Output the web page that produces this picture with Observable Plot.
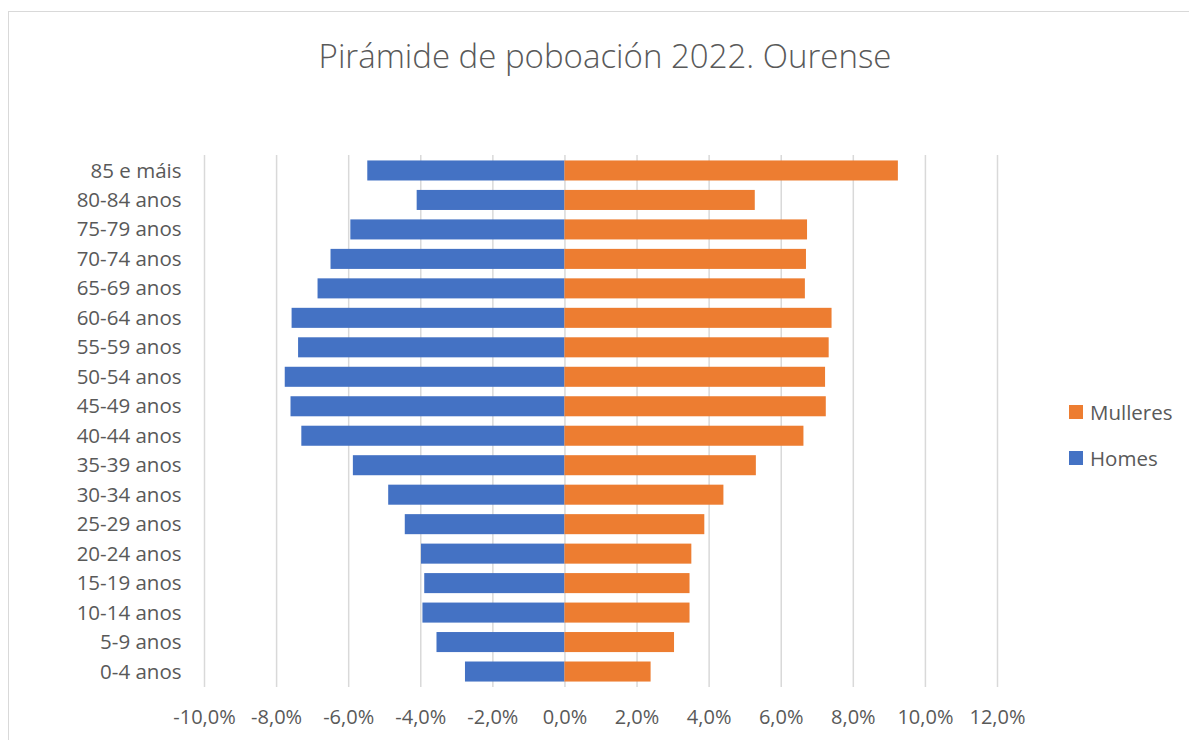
<!DOCTYPE html>
<html>
<head>
<meta charset="utf-8">
<script src="https://cdn.jsdelivr.net/npm/d3@7"></script>
<script src="https://cdn.jsdelivr.net/npm/@observablehq/plot@0.6"></script>
<style>
  html, body { margin: 0; padding: 0; background: #fff; }
  #wrap { position: relative; width: 1189px; height: 740px; overflow: hidden; font-family: "Open Sans", sans-serif; color: #595959; }
  #frame { position: absolute; left: 8px; top: 11px; width: 1300px; height: 800px; border: 1px solid #d9d9d9; box-sizing: border-box; }
  #title { position: absolute; left: 0; width: 1210px; top: 33px; text-align: center; font-size: 33px; font-weight: 300; color: #595959; }
  #chart { position: absolute; left: 0; top: 0; }
  .leg { position: absolute; left: 1069px; font-size: 20.5px; color: #595959; display: flex; align-items: center; }
  .leg span.sw { display: inline-block; width: 14px; height: 14px; margin-right: 7px; }
</style>
</head>
<body>
<div id="wrap">
  <div id="frame"></div>
  <div id="title">Pirámide de poboación 2022. Ourense</div>
  <div id="chart"></div>
  <div class="leg" style="top:398px"><span class="sw" style="background:#ed7d31"></span>Mulleres</div>
  <div class="leg" style="top:444px"><span class="sw" style="background:#4472c4"></span>Homes</div>
</div>
<script>
const ageGroups = ["85 e máis","80-84 anos","75-79 anos","70-74 anos","65-69 anos","60-64 anos","55-59 anos","50-54 anos","45-49 anos","40-44 anos","35-39 anos","30-34 anos","25-29 anos","20-24 anos","15-19 anos","10-14 anos","5-9 anos","0-4 anos"];
const homes    = [-5.47,-4.10,-5.94,-6.49,-6.85,-7.57,-7.39,-7.76,-7.60,-7.30,-5.87,-4.89,-4.43,-3.98,-3.89,-3.94,-3.55,-2.76];
const mulleres = [9.25,5.28,6.73,6.70,6.67,7.41,7.33,7.23,7.25,6.63,5.31,4.41,3.88,3.52,3.47,3.47,3.04,2.39];
const xTicks = [-10,-8,-6,-4,-2,0,2,4,6,8,10,12];

const data = [];
ageGroups.forEach((g, i) => {
  data.push({group: g, sex: "Homes", value: homes[i]});
  data.push({group: g, sex: "Mulleres", value: mulleres[i]});
});

const fmt = v => (v.toFixed(1) + "%").replace(".", ",");

const chart = Plot.plot({
  width: 1189,
  height: 740,
  marginLeft: 204,
  marginRight: 192,
  marginTop: 155,
  marginBottom: 53,
  style: { fontFamily: "Open Sans, sans-serif", fontSize: "19px", color: "#595959", background: "transparent" },
  x: { domain: [-10, 12], ticks: xTicks, tickFormat: fmt, label: null },
  y: { domain: ageGroups, paddingInner: 0.32, paddingOuter: 0.185, round: false, label: null },
  color: { domain: ["Homes","Mulleres"], range: ["#4472c4","#ed7d31"] },
  marks: [
    Plot.gridX(xTicks, { stroke: "#d9d9d9", strokeOpacity: 1, strokeWidth: 1.5 }),
    Plot.barX(data, { x: "value", y: "group", fill: "sex" }),
    Plot.axisX(xTicks, { tickSize: 0, tickPadding: 22, tickFormat: fmt, fontSize: 20, fill: "#595959", label: null }),
    Plot.axisY({ tickSize: 0, tickPadding: 23, fontSize: 20.5, fill: "#595959", label: null })
  ]
});
document.getElementById("chart").appendChild(chart);
</script>
</body>
</html>
